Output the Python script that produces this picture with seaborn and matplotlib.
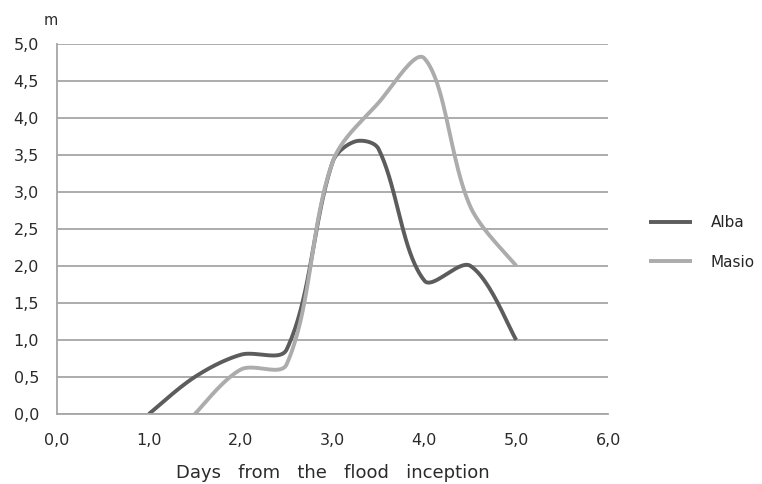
import numpy as np
import pandas as pd
import matplotlib
matplotlib.use("Agg")
import matplotlib.pyplot as plt
import seaborn as sns

# values (days, metres)
alba_days = [1.0, 1.5, 2.0, 2.5, 3.0, 3.25, 3.5, 4.0, 4.5, 5.0]
alba_level = [0.0, 0.5, 0.8, 0.87, 3.4, 3.68, 3.58, 1.8, 2.0, 1.0]
masio_days = [1.5, 2.0, 2.5, 3.0, 3.5, 4.0, 4.5, 5.0]
masio_level = [0.0, 0.6, 0.67, 3.4, 4.2, 4.8, 2.8, 2.0]

x_ticks = [0, 1, 2, 3, 4, 5, 6]
y_ticks = [0, 0.5, 1, 1.5, 2, 2.5, 3, 3.5, 4, 4.5, 5]


def smooth(xs, ys, kx, ky, n=40):
    # Excel-style smoothed line: Bezier segments, tangents weighted by
    # segment length on screen (kx, ky = pixels per data unit)
    p = np.column_stack([np.asarray(xs) * kx, np.asarray(ys) * ky]).astype(float)
    m = len(p)
    c_out = np.zeros_like(p)
    c_in = np.zeros_like(p)
    for i in range(m):
        prev = p[max(i - 1, 0)]
        nxt = p[min(i + 1, m - 1)]
        d = nxt - prev
        l1 = np.hypot(*(p[i] - prev))
        l2 = np.hypot(*(nxt - p[i]))
        tot = l1 + l2
        c_out[i] = p[i] + d * (l2 / tot) / 3 * (0.5 if i == 0 else 1)
        c_in[i] = p[i] - d * (l1 / tot) / 3 * (0.5 if i == m - 1 else 1)
    t = np.linspace(0, 1, n)[:, None]
    out = []
    for i in range(m - 1):
        b0, b1, b2, b3 = p[i], c_out[i], c_in[i + 1], p[i + 1]
        seg = ((1 - t) ** 3) * b0 + 3 * ((1 - t) ** 2) * t * b1 + 3 * (1 - t) * t ** 2 * b2 + t ** 3 * b3
        out.append(seg if i == 0 else seg[1:])
    out = np.vstack(out)
    return out[:, 0] / kx, out[:, 1] / ky


sns.set_style("white")
plt.rcParams['font.family'] = ['DejaVu Sans']

fig = plt.figure(figsize=(7.62, 4.84), dpi=100)
ax = fig.add_axes([0.0748, 0.1446, 0.7232, 0.7654])
kx = 0.7232 * 762 / 6
ky = 0.7654 * 484 / 5

grid_col = "#a6a6a6"
text_col = "#2a2a2a"
series = [("Alba", alba_days, alba_level, "#5c5c5c"),
          ("Masio", masio_days, masio_level, "#acacac")]
for name, xs, ys, col in series:
    sx, sy = smooth(xs, ys, kx, ky)
    df = pd.DataFrame({"x": sx, "y": sy})
    sns.lineplot(data=df, x="x", y="y", ax=ax, sort=False, estimator=None,
                 color=col, lw=2.8, label=name, solid_capstyle="butt")

ax.set_xlim(0, 6)
ax.set_ylim(0, 5)
ax.set_xticks(x_ticks)
ax.set_yticks(y_ticks)
ax.set_xticklabels([f"{v:.1f}".replace(".", ",") for v in x_ticks], fontsize=11.5, color=text_col)
ax.set_yticklabels([f"{v:.1f}".replace(".", ",") for v in y_ticks], fontsize=11.5, color=text_col)
ax.yaxis.grid(True, color=grid_col, lw=1.3)
ax.set_axisbelow(True)
for s in ["top", "right"]:
    ax.spines[s].set_visible(False)
for s in ["left", "bottom"]:
    ax.spines[s].set_color(grid_col)
    ax.spines[s].set_linewidth(1.3)
ax.tick_params(axis="y", direction="out", length=5, width=1.3, color=grid_col, pad=8)
ax.tick_params(axis="x", direction="out", length=5, width=1.3, color=grid_col, pad=9)
ax.set_xlabel("Days   from   the   flood   inception", fontsize=13, labelpad=11.5, color=text_col)
ax.set_ylabel("")
ax.text(-0.011, 1.063, "m", transform=ax.transAxes, fontsize=10.5, ha="center", va="center", color=text_col)

ax.legend(loc="center left", bbox_to_anchor=(1.05, 0.463), frameon=False, fontsize=11,
          handlelength=2.8, handletextpad=1.2, labelspacing=1.6)

fig.savefig("out.png", dpi=100)
